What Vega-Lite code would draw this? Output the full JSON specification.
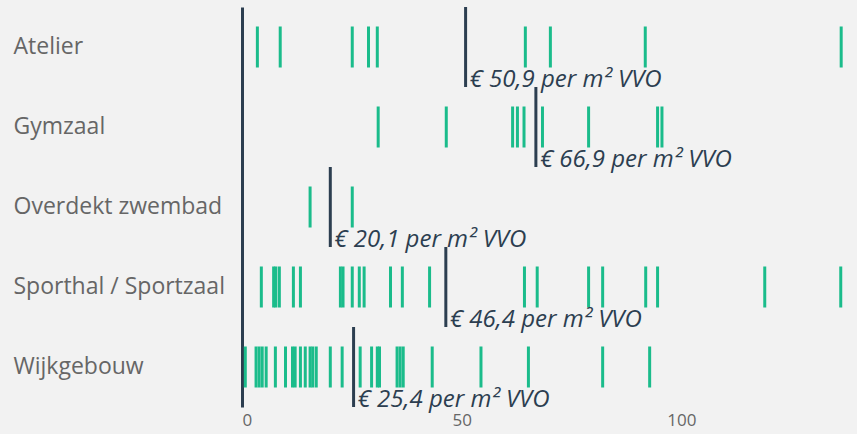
{
  "$schema": "https://vega.github.io/schema/vega-lite/v6.json",
  "width": 615,
  "height": 400,
  "autosize": {"type": "none"},
  "padding": {"left": 242, "top": 7, "right": 0, "bottom": 27},
  "background": "#f2f2f2",
  "config": {"view": {"stroke": null}, "font": "Open Sans"},
  "datasets": {
    "points": [
      {"cat": "Atelier", "v": 3.5}, {"cat": "Atelier", "v": 8.7}, {"cat": "Atelier", "v": 25.1}, {"cat": "Atelier", "v": 28.8}, {"cat": "Atelier", "v": 30.8}, {"cat": "Atelier", "v": 64.5}, {"cat": "Atelier", "v": 70.2}, {"cat": "Atelier", "v": 91.8}, {"cat": "Atelier", "v": 136.4},
      {"cat": "Gymzaal", "v": 31.0}, {"cat": "Gymzaal", "v": 46.5}, {"cat": "Gymzaal", "v": 61.6}, {"cat": "Gymzaal", "v": 62.7}, {"cat": "Gymzaal", "v": 64.2}, {"cat": "Gymzaal", "v": 68.4}, {"cat": "Gymzaal", "v": 78.9}, {"cat": "Gymzaal", "v": 94.6}, {"cat": "Gymzaal", "v": 95.6},
      {"cat": "Overdekt zwembad", "v": 15.5}, {"cat": "Overdekt zwembad", "v": 25.1},
      {"cat": "Sporthal / Sportzaal", "v": 4.4}, {"cat": "Sporthal / Sportzaal", "v": 7.2}, {"cat": "Sporthal / Sportzaal", "v": 7.7}, {"cat": "Sporthal / Sportzaal", "v": 8.5}, {"cat": "Sporthal / Sportzaal", "v": 11.7}, {"cat": "Sporthal / Sportzaal", "v": 13.3}, {"cat": "Sporthal / Sportzaal", "v": 22.4}, {"cat": "Sporthal / Sportzaal", "v": 23.0}, {"cat": "Sporthal / Sportzaal", "v": 25.1}, {"cat": "Sporthal / Sportzaal", "v": 26.7}, {"cat": "Sporthal / Sportzaal", "v": 27.8}, {"cat": "Sporthal / Sportzaal", "v": 33.8}, {"cat": "Sporthal / Sportzaal", "v": 36.5}, {"cat": "Sporthal / Sportzaal", "v": 42.7}, {"cat": "Sporthal / Sportzaal", "v": 64.3}, {"cat": "Sporthal / Sportzaal", "v": 67.2}, {"cat": "Sporthal / Sportzaal", "v": 78.9}, {"cat": "Sporthal / Sportzaal", "v": 82.1}, {"cat": "Sporthal / Sportzaal", "v": 91.9}, {"cat": "Sporthal / Sportzaal", "v": 94.6}, {"cat": "Sporthal / Sportzaal", "v": 119.0}, {"cat": "Sporthal / Sportzaal", "v": 136.3},
      {"cat": "Wijkgebouw", "v": 0.75}, {"cat": "Wijkgebouw", "v": 3.2}, {"cat": "Wijkgebouw", "v": 3.9}, {"cat": "Wijkgebouw", "v": 4.6}, {"cat": "Wijkgebouw", "v": 5.5}, {"cat": "Wijkgebouw", "v": 7.6}, {"cat": "Wijkgebouw", "v": 9.9}, {"cat": "Wijkgebouw", "v": 11.5}, {"cat": "Wijkgebouw", "v": 12.1}, {"cat": "Wijkgebouw", "v": 13.3}, {"cat": "Wijkgebouw", "v": 14.4}, {"cat": "Wijkgebouw", "v": 15.5}, {"cat": "Wijkgebouw", "v": 16.1}, {"cat": "Wijkgebouw", "v": 16.9}, {"cat": "Wijkgebouw", "v": 20.1}, {"cat": "Wijkgebouw", "v": 22.8}, {"cat": "Wijkgebouw", "v": 26.9}, {"cat": "Wijkgebouw", "v": 29.5}, {"cat": "Wijkgebouw", "v": 30.8}, {"cat": "Wijkgebouw", "v": 31.3}, {"cat": "Wijkgebouw", "v": 35.3}, {"cat": "Wijkgebouw", "v": 36.0}, {"cat": "Wijkgebouw", "v": 36.7}, {"cat": "Wijkgebouw", "v": 43.3}, {"cat": "Wijkgebouw", "v": 54.4}, {"cat": "Wijkgebouw", "v": 65.2}, {"cat": "Wijkgebouw", "v": 82.1}, {"cat": "Wijkgebouw", "v": 92.8}
    ],
    "means": [
      {"cat": "Atelier", "mean": 50.9, "label": "€ 50,9 per m² VVO"},
      {"cat": "Gymzaal", "mean": 66.9, "label": "€ 66,9 per m² VVO"},
      {"cat": "Overdekt zwembad", "mean": 20.1, "label": "€ 20,1 per m² VVO"},
      {"cat": "Sporthal / Sportzaal", "mean": 46.4, "label": "€ 46,4 per m² VVO"},
      {"cat": "Wijkgebouw", "mean": 25.4, "label": "€ 25,4 per m² VVO"}
    ]
  },
  "encoding": {
    "y": {
      "field": "cat", "type": "nominal", "title": null,
      "sort": ["Atelier", "Gymzaal", "Overdekt zwembad", "Sporthal / Sportzaal", "Wijkgebouw"],
      "scale": {"paddingInner": 0, "paddingOuter": 0},
      "axis": {
        "ticks": false, "tickSize": 0, "labelPadding": 229, "labelAlign": "left", "labelLimit": 0,
        "labelFontSize": 23, "labelColor": "#666666", "labelFont": "Open Sans",
        "domainColor": "#2c3e50", "domainWidth": 3, "grid": false
      }
    }
  },
  "layer": [
    {
      "data": {"name": "points"},
      "mark": {"type": "tick", "color": "#1bbc8b", "thickness": 3, "size": 41, "opacity": 1},
      "encoding": {
        "x": {
          "field": "v", "type": "quantitative", "title": null,
          "scale": {"domain": [0, 140], "nice": false, "zero": true},
          "axis": {
            "values": [0, 50, 100], "domain": false, "ticks": false, "tickSize": 0, "grid": false,
            "labelPadding": 5, "labelFontSize": 17, "labelColor": "#666666", "labelFont": "Open Sans"
          }
        }
      }
    },
    {
      "data": {"name": "means"},
      "mark": {"type": "tick", "color": "#2c3e50", "thickness": 3, "size": 80, "opacity": 1},
      "encoding": {
        "x": {"field": "mean", "type": "quantitative"}
      }
    },
    {
      "data": {"name": "means"},
      "mark": {"type": "text", "align": "left", "baseline": "alphabetic", "dx": 4, "dy": 40, "fontSize": 24, "fontStyle": "italic", "font": "Open Sans", "color": "#2c3e50"},
      "encoding": {
        "x": {"field": "mean", "type": "quantitative"},
        "text": {"field": "label"}
      }
    }
  ]
}
